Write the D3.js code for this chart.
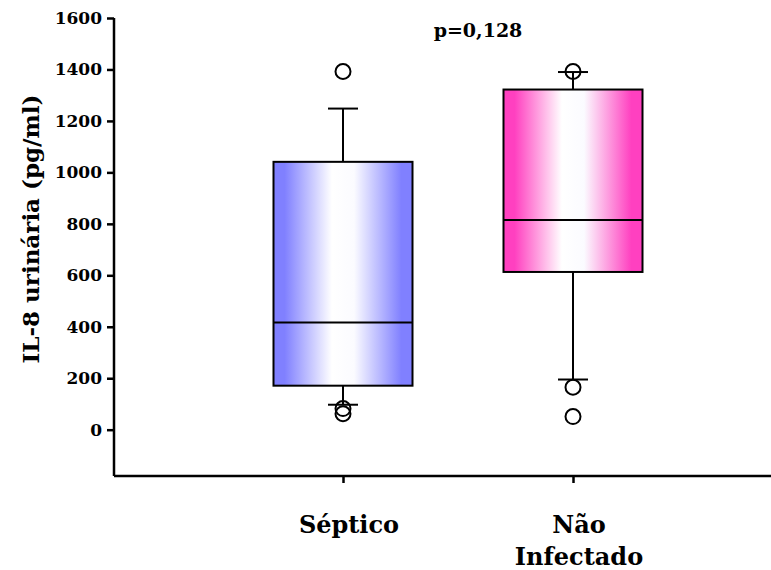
<!DOCTYPE html>
<html>
<head>
<meta charset="utf-8">
<script src="https://cdn.jsdelivr.net/npm/d3@7"></script>
<style>
  body { margin: 0; background: #fff; }
  svg text { font-family: "DejaVu Serif", serif; font-weight: bold; fill: #000; }
  .axis path, .axis line { stroke: #000; stroke-width: 2.5; }
</style>
</head>
<body>
<div class="chart"></div>
<script>
// data
var groups = ["Séptico", "Não Infectado"];
var q1 = [171, 613];
var medians = [417, 815];
var q3 = [1041, 1322];
var whiskLow = [97, 195];
var whiskHigh = [1248, 1390];
var outliers = [[1392, 82, 62], [1392, 165, 51]];
var yTicks = [0, 200, 400, 600, 800, 1000, 1200, 1400, 1600];
var edgeColors = ["#8080ff", "#ff40c0"];
var pLabel = "p=0,128";

var width = 771, height = 570;
var svg = d3.select(".chart").append("svg")
    .attr("width", width)
    .attr("height", height);

var y = d3.scaleLinear()
    .domain([-180, 1600])
    .range([476, 18]);
var x = d3.scalePoint()
    .domain(groups)
    .range([343, 573]);

var boxW = 139, capW = 30;

// gradients, white in the middle
var defs = svg.append("defs");
groups.forEach(function(g, i) {
  var grad = defs.append("linearGradient")
      .attr("id", "grad" + i)
      .attr("x1", "0%").attr("x2", "100%")
      .attr("y1", "0%").attr("y2", "0%");
  [[0, edgeColors[i]], [0.08, edgeColors[i]], [0.42, "#ffffff"], [0.58, "#fbfbff"],
   [0.92, edgeColors[i]], [1, edgeColors[i]]].forEach(function(s) {
    grad.append("stop").attr("offset", s[0]).attr("stop-color", s[1]);
  });
});

// Y axis
var yAxis = d3.axisLeft(y)
    .tickValues(yTicks)
    .tickSize(7)
    .tickPadding(5)
    .tickFormat(d3.format("d"));
var yAxisEl = svg.append("g")
    .attr("class", "y axis")
    .attr("transform", "translate(114,0)")
    .call(yAxis);
yAxisEl.select(".domain").attr("d", "M0," + y(1600) + "V" + y(-180));
yAxisEl.selectAll("text").style("font-size", "17px");

// X axis
var xAxis = d3.axisBottom(x)
    .tickSize(7)
    .tickFormat("");
var xAxisEl = svg.append("g")
    .attr("class", "x axis")
    .attr("transform", "translate(0," + y(-180) + ")")
    .call(xAxis);
xAxisEl.select(".domain").attr("d", "M114,0H771");

// category labels
groups.forEach(function(g, i) {
  var lines = i === 0 ? ["Séptico"] : ["Não", "Infectado"];
  var t = svg.append("text")
      .attr("x", x(g) + 7)
      .attr("y", 533)
      .attr("text-anchor", "middle")
      .style("font-size", "24px");
  lines.forEach(function(l, j) {
    t.append("tspan").attr("x", x(g) + 6).attr("dy", j ? 32 : 0).text(l);
  });
});

// Y title
svg.append("text")
    .attr("transform", "translate(39," + 229 + ") rotate(-90)")
    .attr("text-anchor", "middle")
    .style("font-size", "23px")
    .text("IL-8 urinária (pg/ml)");

// p value
svg.append("text")
    .attr("x", 478)
    .attr("y", 37)
    .attr("text-anchor", "middle")
    .style("font-size", "19px")
    .text(pLabel);

// boxes
var box = svg.selectAll(".box")
    .data(groups)
    .enter().append("g")
    .attr("class", "box");

box.append("line")
    .attr("x1", function(d) { return x(d); })
    .attr("x2", function(d) { return x(d); })
    .attr("y1", function(d, i) { return y(whiskHigh[i]); })
    .attr("y2", function(d, i) { return y(q3[i]); })
    .attr("stroke", "#000").attr("stroke-width", 2);
box.append("line")
    .attr("x1", function(d) { return x(d); })
    .attr("x2", function(d) { return x(d); })
    .attr("y1", function(d, i) { return y(q1[i]); })
    .attr("y2", function(d, i) { return y(whiskLow[i]); })
    .attr("stroke", "#000").attr("stroke-width", 2);
[whiskHigh, whiskLow].forEach(function(arr) {
  box.append("line")
      .attr("x1", function(d) { return x(d) - capW / 2; })
      .attr("x2", function(d) { return x(d) + capW / 2; })
      .attr("y1", function(d, i) { return y(arr[i]); })
      .attr("y2", function(d, i) { return y(arr[i]); })
      .attr("stroke", "#000").attr("stroke-width", 2);
});

box.append("rect")
    .attr("x", function(d) { return x(d) - boxW / 2; })
    .attr("width", boxW)
    .attr("y", function(d, i) { return y(q3[i]); })
    .attr("height", function(d, i) { return y(q1[i]) - y(q3[i]); })
    .attr("fill", function(d, i) { return "url(#grad" + i + ")"; })
    .attr("stroke", "#000").attr("stroke-width", 2);
box.append("line")
    .attr("x1", function(d) { return x(d) - boxW / 2; })
    .attr("x2", function(d) { return x(d) + boxW / 2; })
    .attr("y1", function(d, i) { return y(medians[i]); })
    .attr("y2", function(d, i) { return y(medians[i]); })
    .attr("stroke", "#000").attr("stroke-width", 2);

// outlier circles
groups.forEach(function(g, i) {
  svg.selectAll(".out" + i)
      .data(outliers[i])
      .enter().append("circle")
      .attr("cx", x(g))
      .attr("cy", function(d) { return y(d); })
      .attr("r", 7.5)
      .attr("fill", "none")
      .attr("stroke", "#000").attr("stroke-width", 2);
});
</script>
</body>
</html>
